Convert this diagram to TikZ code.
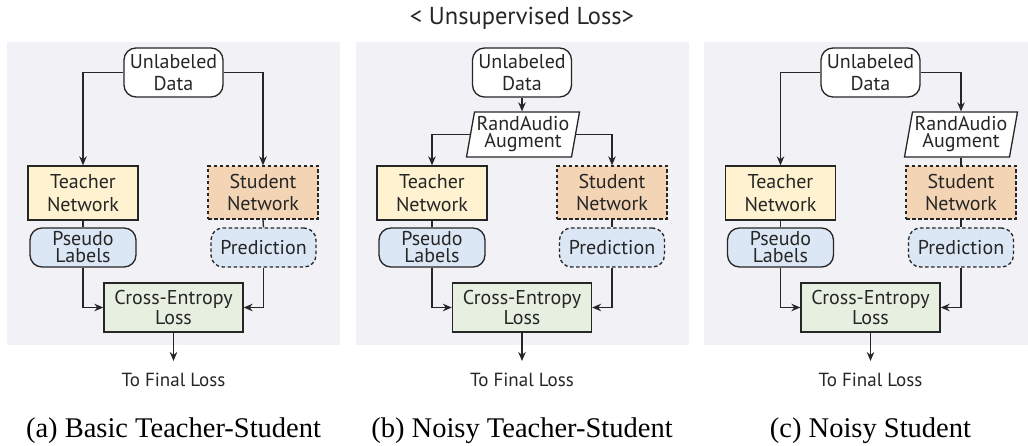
\documentclass[tikz,border=0pt]{standalone}
\usepackage{fontspec}
\setmainfont{Liberation Serif}
\newfontfamily\diagfont{PT Sans}
\usetikzlibrary{arrows.meta}
\definecolor{bgc}{HTML}{F1F1F6}
\definecolor{teach}{HTML}{FFF2D0}
\definecolor{stud}{HTML}{F3D4B4}
\definecolor{blu}{HTML}{DCE7F5}
\definecolor{grn}{HTML}{E7EFE1}
\definecolor{lc}{HTML}{262626}
\tikzset{
  nf/.style={font=\diagfont\fontsize{20}{22.5}\selectfont},
  tight/.style={font=\diagfont\fontsize{20}{17}\selectfont},
  box/.style={draw=lc, line width=1.3pt, align=center, inner sep=0pt, text=lc, nf},
  rbox/.style={box, rounded corners=12pt},
  dline/.style={dash pattern=on 3.5pt off 2.5pt},
  conn/.style={draw=lc, line width=1.3pt},
  arr/.style={conn, -{Stealth[length=9pt,width=7.5pt]}},
  lab/.style={font=\diagfont\fontsize{19}{22}\selectfont, text=lc, inner sep=0pt},
  capt/.style={font=\fontsize{28.5}{32}\selectfont, inner sep=0pt},
  para/.style={draw=lc, line width=1.3pt, fill=white},
}
\begin{document}
\begin{tikzpicture}[x=1pt,y=-1pt]
\useasboundingbox (0,0) rectangle (1028,446);
\node[lab, font=\diagfont\fontsize{24.5}{28}\selectfont] (title) at (522,18) {< Unsupervised Loss>};
% ---------------- panel a
\fill[bgc] (7,42) rectangle (340,345);
\node[rbox, fill=white, minimum width=99pt, minimum height=49pt] (uda) at (173.5,72.5) {Unlabeled\\Data};
\node[box, fill=teach, minimum width=110pt, minimum height=54pt] (ta) at (83,193) {Teacher\\Network};
\node[box, dline, fill=stud, minimum width=110pt, minimum height=53pt] (sa) at (263,192.5) {Student\\Network};
\node[rbox, tight, fill=blu, minimum width=106pt, minimum height=39pt] (pa) at (83,247.5) {Pseudo\\Labels};
\node[rbox, dline, fill=blu, minimum width=105pt, minimum height=39pt] (pra) at (263.5,247.5) {Prediction};
\node[box, tight, fill=grn, minimum width=139pt, minimum height=49pt] (cea) at (173.5,307.5) {Cross-Entropy\\Loss};
\coordinate (ea) at (173.5,361);
\node[lab] (fa) at (173.5,380) {To Final Loss};
\node[capt] (capa) at (173.5,431) {(a) Basic Teacher-Student};
\draw[arr] (uda.west) -| (ta.north);
\draw[arr] (uda.east) -| (sa.north);
\draw[conn] (ta.south) -- (pa.north);
\draw[conn] (sa.south) -- (pra.north);
\draw[arr] (pa.south) |- (cea.west);
\draw[arr] (pra.south) |- (cea.east);
\draw[arr] (cea.south) -- (ea);
% ---------------- panel b
\begin{scope}[xshift=348.5pt]
\fill[bgc] (7.5,42) rectangle (340.5,345);
\node[rbox, fill=white, minimum width=99pt, minimum height=49pt] (udb) at (173.5,72.5) {Unlabeled\\Data};
\draw[para] (118,157) -- (126,112) -- (231,112) -- (223,157) -- cycle;
\node[box, tight, draw=none, minimum width=105pt, minimum height=45pt] (rab) at (174.5,134.5) {RandAudio\\Augment};
\node[box, fill=teach, minimum width=110pt, minimum height=54pt] (tb) at (83.5,193) {Teacher\\Network};
\node[box, dline, fill=stud, minimum width=110pt, minimum height=53pt] (sb) at (263.5,192.5) {Student\\Network};
\node[rbox, tight, fill=blu, minimum width=106pt, minimum height=39pt] (pb) at (83.5,247.5) {Pseudo\\Labels};
\node[rbox, dline, fill=blu, minimum width=105pt, minimum height=39pt] (prb) at (263.5,247.5) {Prediction};
\node[box, tight, fill=grn, minimum width=139pt, minimum height=49pt] (ceb) at (173.5,307.5) {Cross-Entropy\\Loss};
\coordinate (eb) at (173.5,361);
\node[lab] (fb) at (173.5,380) {To Final Loss};
\node[capt] (capb) at (173.5,431) {(b) Noisy Teacher-Student};
\draw[arr] (udb.south) -- (udb.south |- rab.north);
\draw[arr] (rab.west) -| (tb.north);
\draw[arr] (rab.east) -| (sb.north);
\draw[conn] (tb.south) -- (pb.north);
\draw[conn] (sb.south) -- (prb.north);
\draw[arr] (pb.south) |- (ceb.west);
\draw[arr] (prb.south) |- (ceb.east);
\draw[arr] (ceb.south) -- (eb);
\end{scope}
% ---------------- panel c
\begin{scope}[xshift=697pt]
\fill[bgc] (7,42) rectangle (331,345);
\node[rbox, fill=white, minimum width=99pt, minimum height=49pt] (udc) at (173.5,72.5) {Unlabeled\\Data};
\draw[para] (207.5,157) -- (215.5,112) -- (320.5,112) -- (312.5,157) -- cycle;
\node[box, tight, draw=none, minimum width=105pt, minimum height=45pt] (rac) at (264,134.5) {RandAudio\\Augment};
\node[box, fill=teach, minimum width=110pt, minimum height=54pt] (tc) at (83.5,193) {Teacher\\Network};
\node[box, dline, fill=stud, minimum width=110pt, minimum height=53pt] (sc) at (264,192.5) {Student\\Network};
\node[rbox, tight, fill=blu, minimum width=106pt, minimum height=39pt] (pc) at (83.5,247.5) {Pseudo\\Labels};
\node[rbox, dline, fill=blu, minimum width=105pt, minimum height=39pt] (prc) at (264,247.5) {Prediction};
\node[box, tight, fill=grn, minimum width=139pt, minimum height=49pt] (cec) at (173.5,307.5) {Cross-Entropy\\Loss};
\coordinate (ec) at (173.5,361);
\node[lab] (fc) at (173.5,380) {To Final Loss};
\node[capt] (capc) at (173.5,431) {(c) Noisy Student};
\draw[arr] (udc.west) -| (tc.north);
\draw[arr] (udc.east) -| (rac.north);
\draw[conn] (rac.south) -- (sc.north);
\draw[conn] (tc.south) -- (pc.north);
\draw[conn] (sc.south) -- (prc.north);
\draw[arr] (pc.south) |- (cec.west);
\draw[arr] (prc.south) |- (cec.east);
\draw[arr] (cec.south) -- (ec);
\end{scope}
\end{tikzpicture}
\end{document}
